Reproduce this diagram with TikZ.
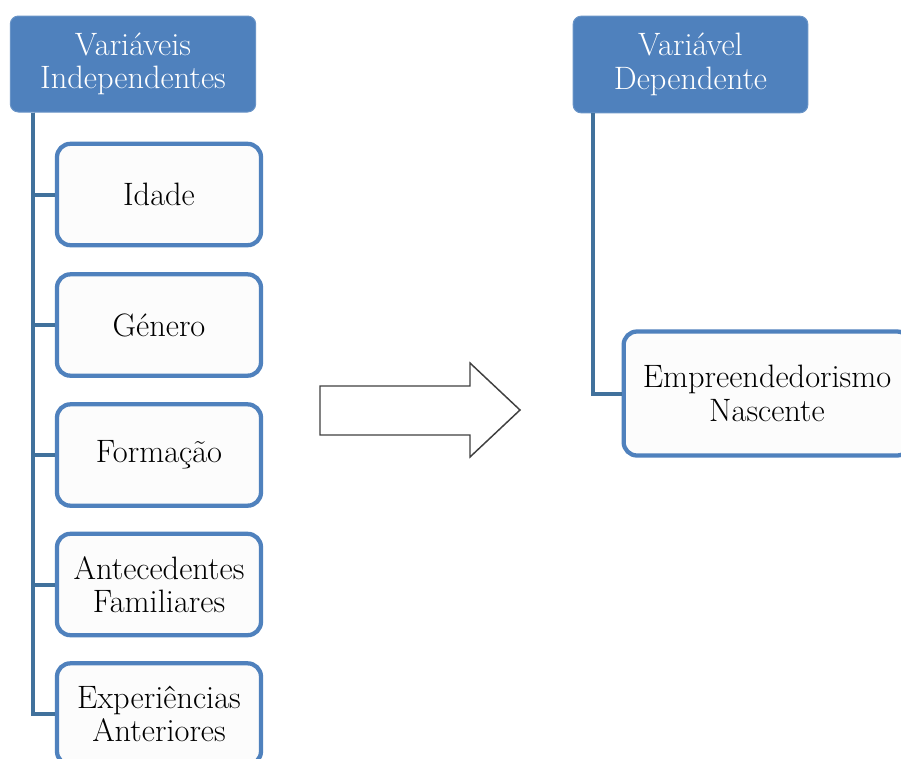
\documentclass[tikz,border=0pt]{standalone}
\definecolor{hdrblue}{HTML}{4F81BD}
\definecolor{trunkblue}{HTML}{41719C}
\definecolor{boxfill}{HTML}{FCFCFC}

\begin{document}
\begin{tikzpicture}[x = 0.75pt, y = -0.75pt,
  header/.style = {fill = hdrblue, draw = hdrblue!85!white, line width = 0.75pt, rounded corners = 6pt, text = white, align = center, font = \fontsize{24.3}{25}\selectfont},
  item/.style = {draw = hdrblue, line width = 3.2pt, fill = boxfill, rounded corners = 10pt, align = center, minimum width = 153pt, minimum height = 76pt, font = \fontsize{24.3}{25}\selectfont},
  link/.style = {draw = trunkblue, line width = 3pt}]
\clip (0, 0) rectangle (901, 758);
\fill [white] (0, 0) rectangle (901, 758);
% left column
\node [header, minimum width = 184pt, minimum height = 72pt] (indep) at (133, 64) {Variáveis\\Independentes};
\node [item] (idade) at (159, 194.5) {Idade};
\node [item] (genero) at (159, 325) {Género};
\node [item] (formacao) at (159, 455) {Formação};
\node [item] (antec) at (159, 584.5) {Antecedentes\\Familiares};
\node [item] (exper) at (159, 714) {Experiências\\Anteriores};
\coordinate (trunkL) at ([xshift = 17pt]indep.south west);
\draw [link] (trunkL) |- (idade.west);
\draw [link] (trunkL) |- (genero.west);
\draw [link] (trunkL) |- (formacao.west);
\draw [link] (trunkL) |- (antec.west);
\draw [link] (trunkL) |- (exper.west);
% arrow
\draw [line width = 1.1pt, black!75, fill = white, line join = miter] (320, 386) -- (470, 386) -- (470, 363) -- (520, 410) -- (470, 457) -- (470, 435) -- (320, 435) -- cycle;
% right column
\node [header, minimum width = 176pt, minimum height = 72.5pt] (dep) at (690.5, 64.5) {Variável\\Dependente};
\node [item, minimum width = 215pt, minimum height = 93pt] (nasc) at (767, 393.5) {Empreendedorismo\\Nascente};
\coordinate (trunkR) at ([xshift = 15pt]dep.south west);
\draw [link] (trunkR) |- (nasc.west);
\end{tikzpicture}
\end{document}
